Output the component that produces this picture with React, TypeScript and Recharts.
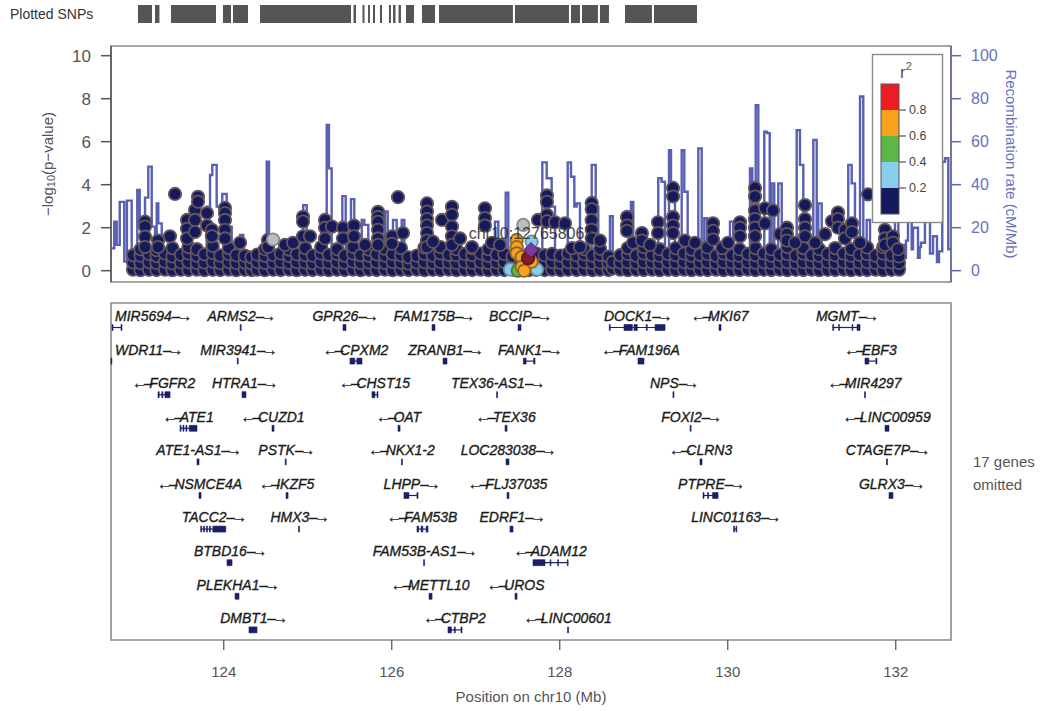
import React from 'react';
import {
  ComposedChart,
  Scatter,
  Line,
  XAxis,
  YAxis,
  ReferenceArea,
  ReferenceLine,
  ReferenceDot,
  Label,
} from 'recharts';

const FONT = '"Liberation Sans", Arial, Helvetica, sans-serif';

// 10 Mb window centred on the index SNP
const WINDOW: [number, number] = [122.658067, 132.658067];
const LOGP_DOMAIN: [number, number] = [-0.526, 10.451];
const RECOMB_DOMAIN: [number, number] = [-5.26, 104.51];
const ROW_DOMAIN: [number, number] = [0.613, 10.643];

const positionTicks = [124, 126, 128, 130, 132];
const logpTicks = [0, 2, 4, 6, 8, 10];
const recombTicks = [0, 20, 40, 60, 80, 100];
const r2Labels = ['0.8', '0.6', '0.4', '0.2'];
const r2Colors = ['#ec1c24', '#f7a11d', '#5cb746', '#89cdee', '#141a5b'];

const NAVY = '#141a5b';
const RECOMB = '#5860b2';
const GENE = '#1a1f66';

// recombination rate (cM/Mb), each value holds until the next position
const recombSteps: [number, number][] = [
  [122.658, 10.4], [122.697, 22.8], [122.726, 12], [122.762, 32], [122.816, 4.2],
  [122.848, 32.6], [122.904, 1.5], [122.971, 37.5], [123.0, 20.5], [123.063, 34],
  [123.102, 48.4], [123.143, 20.5], [123.182, 4], [123.202, 31.3], [123.221, 22],
  [123.262, 6], [123.313, 2], [123.384, 8], [123.432, 2], [123.539, 10],
  [123.575, 3], [123.694, 12], [123.729, 2], [123.797, 29.8], [123.837, 44.5],
  [123.864, 49.2], [123.916, 29.8], [123.983, 35.7], [124.035, 20.5], [124.095, 3],
  [124.194, 16.6], [124.233, 2], [124.36, 6], [124.408, 1], [124.512, 50.7],
  [124.539, 1.5], [124.729, 5], [124.789, 1], [124.947, 30.5], [124.988, 3],
  [125.087, 8], [125.146, 2], [125.226, 67.8], [125.253, 47.6], [125.285, 3],
  [125.412, 34.7], [125.452, 4], [125.515, 33.3], [125.554, 5], [125.643, 23.6],
  [125.673, 21.3], [125.721, 3], [125.813, 12], [125.86, 2], [125.92, 27.5],
  [125.952, 4], [126.015, 23.6], [126.059, 3], [126.119, 23.6], [126.15, 2],
  [126.277, 5], [126.337, 1], [126.491, 9.6], [126.535, 1.5], [126.753, 6],
  [126.813, 1], [127.027, 7], [127.087, 1], [127.229, 22.8], [127.269, 2],
  [127.357, 36.3], [127.388, 3], [127.527, 8], [127.587, 1], [127.793, 50.4],
  [127.845, 43], [127.904, 29.8], [127.944, 4], [128.095, 50.4], [128.134, 43.7],
  [128.174, 29.8], [128.202, 31.3], [128.241, 3], [128.381, 49.2], [128.428, 29.8],
  [128.459, 3], [128.598, 25.4], [128.631, 1], [128.718, 6], [128.777, 2],
  [128.848, 32], [128.876, 3], [129.015, 10], [129.075, 2], [129.173, 43],
  [129.213, 41.4], [129.253, 5], [129.301, 56], [129.325, 40.6], [129.372, 3],
  [129.452, 56], [129.483, 36.7], [129.523, 4], [129.65, 56.9], [129.69, 5],
  [129.721, 24.4], [129.753, 2], [129.848, 8], [129.908, 2], [130.027, 22.8],
  [130.066, 2], [130.146, 8], [130.206, 2], [130.265, 47.6], [130.293, 5],
  [130.333, 77], [130.364, 6], [130.435, 64.7], [130.468, 64], [130.5, 5],
  [130.523, 40.6], [130.554, 4], [130.602, 40.6], [130.643, 3], [130.741, 10],
  [130.789, 2], [130.821, 65.4], [130.86, 49.2], [130.9, 3], [131.019, 60.8],
  [131.059, 5], [131.078, 31.3], [131.119, 3], [131.218, 12], [131.277, 2],
  [131.435, 49.2], [131.476, 40.6], [131.515, 4], [131.575, 81], [131.614, 5],
  [131.654, 23.6], [131.694, 3], [131.813, 10], [131.872, 2], [131.991, 25.1],
  [132.031, 4], [132.075, 12], [132.098, 6], [132.122, 14], [132.146, 25],
  [132.19, 10], [132.206, 20], [132.265, 6], [132.285, 11], [132.301, 13],
  [132.348, 22.8], [132.408, 8], [132.444, 16], [132.491, 4], [132.515, 9],
  [132.554, 50.7], [132.587, 52.3], [132.626, 10], [132.658, 10],
];

// SNPs with r2 < 0.2: dense band near zero (position Mb, -log10 p values)
const snpFloor: [number, number[]][] = [
  [122.92, [0.05, 0.38, 0.72]], [123.01, [0.02, 0.35, 0.7, 1.0]], [123.11, [0.04, 0.4, 0.78]],
  [123.2, [0.03, 0.36, 0.68, 0.95]], [123.3, [0.05, 0.42, 0.8]], [123.39, [0.02, 0.34, 0.66, 1.05]],
  [123.49, [0.04, 0.38, 0.74]], [123.58, [0.03, 0.4, 0.8, 1.1]], [123.68, [0.05, 0.36, 0.7, 1.0]],
  [123.77, [0.02, 0.38, 0.76]], [123.87, [0.04, 0.42, 0.82, 1.15]], [123.96, [0.03, 0.35, 0.7]],
  [124.06, [0.05, 0.4, 0.78, 1.05]], [124.15, [0.02, 0.36, 0.72]], [124.25, [0.04, 0.38, 0.7]],
  [124.33, [0.03, 0.33, 0.62]], [124.4, [0.05, 0.4, 0.75]], [124.49, [0.02, 0.36, 0.7, 1.0]],
  [124.59, [0.04, 0.38, 0.72]], [124.68, [0.03, 0.42, 0.8]], [124.78, [0.05, 0.36, 0.68, 0.98]],
  [124.87, [0.02, 0.4, 0.76]], [124.97, [0.04, 0.38, 0.72, 1.05]], [125.06, [0.03, 0.35, 0.7]],
  [125.16, [0.05, 0.4, 0.8, 1.1]], [125.25, [0.02, 0.37, 0.74]], [125.35, [0.04, 0.4, 0.78, 1.0]],
  [125.44, [0.03, 0.36, 0.7]], [125.54, [0.05, 0.42, 0.8, 1.1]], [125.63, [0.02, 0.36, 0.72]],
  [125.73, [0.04, 0.38, 0.7, 0.98]], [125.82, [0.03, 0.4, 0.76]], [125.92, [0.05, 0.36, 0.7, 1.02]],
  [126.01, [0.02, 0.4, 0.78]], [126.11, [0.04, 0.37, 0.72, 1.05]], [126.2, [0.03, 0.34, 0.62]],
  [126.3, [0.05, 0.38, 0.7]], [126.39, [0.02, 0.4, 0.78, 1.08]], [126.49, [0.04, 0.36, 0.7]],
  [126.58, [0.03, 0.4, 0.8, 1.1]], [126.68, [0.05, 0.38, 0.74]], [126.77, [0.02, 0.36, 0.72, 1.0]],
  [126.87, [0.04, 0.4, 0.78]], [126.96, [0.03, 0.37, 0.72, 1.05]], [127.06, [0.05, 0.4, 0.8]],
  [127.15, [0.02, 0.36, 0.7, 1.0]], [127.25, [0.04, 0.38, 0.74]], [127.34, [0.03, 0.4, 0.78]],
  [127.44, [0.05, 0.34, 0.66]], [127.53, [0.03, 0.32]], [127.63, [0.02, 0.3]],
  [127.72, [0.04, 0.4, 0.8]], [127.82, [0.03, 0.38, 0.72]], [127.91, [0.05, 0.4, 0.78]],
  [128.01, [0.02, 0.36, 0.7]], [128.1, [0.04, 0.4, 0.8]], [128.2, [0.03, 0.37, 0.72]],
  [128.29, [0.05, 0.4, 0.76, 1.0]], [128.39, [0.02, 0.36, 0.7]], [128.48, [0.04, 0.38, 0.74, 1.02]],
  [128.58, [0.03, 0.35, 0.66]], [128.63, [0.1, 0.4]], [128.72, [0.05, 0.38, 0.72]],
  [128.81, [0.02, 0.4, 0.78, 1.05]], [128.91, [0.04, 0.36, 0.7]], [129.0, [0.03, 0.4, 0.8, 1.1]],
  [129.1, [0.05, 0.38, 0.72]], [129.19, [0.02, 0.36, 0.7, 1.0]], [129.29, [0.04, 0.4, 0.78]],
  [129.38, [0.03, 0.37, 0.72, 1.05]], [129.48, [0.05, 0.4, 0.8]], [129.57, [0.02, 0.36, 0.7, 0.98]],
  [129.67, [0.04, 0.38, 0.74]], [129.76, [0.03, 0.4, 0.78, 1.08]], [129.86, [0.05, 0.36, 0.7]],
  [129.95, [0.02, 0.4, 0.8, 1.1]], [130.05, [0.04, 0.38, 0.72]], [130.14, [0.03, 0.36, 0.7, 1.0]],
  [130.24, [0.05, 0.4, 0.78]], [130.33, [0.02, 0.37, 0.72, 1.05]], [130.43, [0.04, 0.4, 0.8]],
  [130.52, [0.03, 0.36, 0.7, 1.0]], [130.62, [0.05, 0.38, 0.74]], [130.71, [0.02, 0.4, 0.78, 1.1]],
  [130.81, [0.04, 0.36, 0.7]], [130.9, [0.03, 0.4, 0.8, 1.05]], [131.0, [0.05, 0.38, 0.72]],
  [131.09, [0.02, 0.36, 0.7, 1.0]], [131.19, [0.04, 0.4, 0.78]], [131.28, [0.03, 0.37, 0.72, 1.05]],
  [131.38, [0.05, 0.4, 0.8]], [131.47, [0.02, 0.36, 0.7, 1.0]], [131.57, [0.04, 0.38, 0.74]],
  [131.66, [0.03, 0.4, 0.78, 1.08]], [131.76, [0.05, 0.36, 0.7]], [131.85, [0.02, 0.4, 0.8, 1.1]],
  [131.95, [0.04, 0.38, 0.72]], [132.04, [0.05, 0.36, 0.66]],
];

// SNPs with r2 < 0.2 rising above the band
const snpUpper: [number, number[]][] = [
  [123.063, [2.28, 2.05, 1.58, 1.1]], [123.218, [1.4, 1.1]], [123.36, [1.6]], [123.42, [3.57]],
  [123.563, [2.36, 1.95, 1.5]], [123.658, [2.82, 2.36, 1.8]], [123.694, [3.44, 3.21]],
  [123.801, [2.68, 2.1]], [123.86, [1.9, 1.6]], [124.015, [2.92, 2.68, 2.36, 1.9, 1.5]],
  [124.194, [1.3]], [124.527, [1.43, 1.1]], [124.729, [1.2]], [124.825, [1.3]],
  [124.944, [2.51, 2.28, 1.6]], [125.027, [1.6]], [125.206, [2.36, 2.0, 1.5]], [125.289, [2.05]],
  [125.42, [2.0, 1.5]], [125.551, [2.1, 1.6]], [125.682, [1.2]],
  [125.837, [2.74, 2.5, 2.27, 1.9, 1.5, 1.2]], [126.003, [1.6, 1.25]], [126.075, [3.42]],
  [126.134, [1.75]], [126.42, [3.13, 2.75, 2.4, 2.1, 1.75, 1.4, 1.1]], [126.491, [1.35]],
  [126.598, [2.36]], [126.717, [2.97, 2.6, 2.05, 1.6, 1.2]], [126.813, [1.5]], [126.956, [1.1]],
  [127.11, [2.9, 2.45, 2.1]], [127.194, [1.3]], [127.289, [1.2]], [127.741, [2.36]],
  [127.848, [3.5, 3.2, 2.6, 2.3]], [127.944, [2.25]], [128.063, [2.2]], [128.146, [1.05]],
  [128.241, [1.1]], [128.381, [3.15, 2.85, 2.35, 1.9, 1.5]], [128.479, [1.4]],
  [128.801, [2.5, 2.1, 1.85]], [128.872, [1.3]], [128.979, [1.75, 1.4]], [129.075, [1.2]],
  [129.17, [2.25, 1.75]], [129.349, [3.85, 3.45, 2.5, 2.1, 1.75]], [129.491, [1.4]],
  [129.61, [1.3]], [129.825, [2.2, 1.85, 1.45]], [129.933, [1.05]], [130.004, [1.3]],
  [130.146, [2.25, 2.0, 1.6]], [130.325, [3.85, 3.45, 2.8, 2.4, 2.0, 1.6]], [130.444, [2.9, 2.2]],
  [130.539, [2.8]], [130.622, [1.7]], [130.705, [2.0, 1.7, 1.4]], [130.801, [1.3]],
  [130.92, [3.05, 2.4, 2.0, 1.6]], [131.039, [1.3]], [131.158, [1.7]], [131.241, [2.3]],
  [131.313, [2.7, 2.4, 2.0]], [131.396, [1.9, 1.5]], [131.479, [2.2, 1.8]], [131.574, [1.3]],
  [131.67, [3.55]], [131.872, [1.9, 1.5, 1.2]], [131.967, [1.6, 1.3]], [132.027, [1.0]],
];

// SNPs by LD class (position Mb, -log10 p)
const snpNoLd: [number, number][] = [[124.587, 1.45], [127.566, 2.13]];
const snpR2Low: [number, number][] = [[127.408, 0.06], [127.729, 0.06], [127.666, 1.35]];
const snpR2Mid: [number, number][] = [[127.5, 0.0]];
const snpR2High: [number, number][] = [
  [127.488, 1.43], [127.488, 1.1], [127.488, 0.81], [127.547, 0.63],
  [127.547, 0.18], [127.666, 0.42], [127.578, 0.0],
];
const snpR2Top: [number, number][] = [[127.623, 0.58]];
const leadSnp = { pos: 127.658067, logp: 0.96, label: 'chr10:127658067' };

// genotyped coverage shown in the top strip (start, end in Mb)
const rugBlocks: [number, number][] = [
  [122.979, 123.146], [123.182, 123.235], [123.372, 123.908], [123.991, 124.087],
  [124.11, 124.289], [124.432, 125.515], [125.545, 125.575], [125.652, 125.676],
  [125.718, 125.741], [125.777, 125.801], [125.86, 125.884], [125.967, 125.991],
  [126.015, 126.045], [126.081, 126.11], [126.17, 126.265], [126.36, 126.515],
  [126.563, 127.443], [127.467, 128.11], [128.134, 128.241], [128.265, 128.455],
  [128.479, 128.586], [128.777, 129.098], [129.122, 129.634],
];

type Gene = { name: string; strand: '+' | '-'; row: number; exons: [number, number][] };

const genes: Gene[] = [
  { name: 'MIR5694', strand: '+', row: 1, exons: [[122.67, 122.682], [122.777, 122.789]] },
  { name: 'ARMS2', strand: '+', row: 1, exons: [[124.196, 124.208]] },
  { name: 'GPR26', strand: '+', row: 1, exons: [[125.42, 125.456]] },
  { name: 'FAM175B', strand: '+', row: 1, exons: [[126.48, 126.515]] },
  { name: 'BCCIP', strand: '+', row: 1, exons: [[127.504, 127.539]] },
  { name: 'DOCK1', strand: '+', row: 1, exons: [[128.59, 128.602], [128.765, 128.865], [128.884, 128.923], [129.03, 129.042], [129.135, 129.254]] },
  { name: 'MKI67', strand: '-', row: 1, exons: [[129.896, 129.92]] },
  { name: 'MGMT', strand: '+', row: 1, exons: [[131.25, 131.262], [131.32, 131.33], [131.48, 131.49], [131.54, 131.575]] },

  { name: 'WDR11', strand: '+', row: 2, exons: [[122.658, 122.668]] },
  { name: 'MIR3941', strand: '+', row: 2, exons: [[124.161, 124.173]] },
  { name: 'CPXM2', strand: '-', row: 2, exons: [[125.503, 125.56], [125.585, 125.646]] },
  { name: 'ZRANB1', strand: '+', row: 2, exons: [[126.611, 126.658]] },
  { name: 'FANK1', strand: '+', row: 2, exons: [[127.567, 127.6], [127.69, 127.706]] },
  { name: 'FAM196A', strand: '-', row: 2, exons: [[128.932, 129.003]] },
  { name: 'EBF3', strand: '-', row: 2, exons: [[131.634, 131.68], [131.764, 131.776]] },

  { name: 'FGFR2', strand: '-', row: 3, exons: [[123.218, 123.232], [123.262, 123.276], [123.3, 123.361]] },
  { name: 'HTRA1', strand: '+', row: 3, exons: [[124.218, 124.265]] },
  { name: 'CHST15', strand: '-', row: 3, exons: [[125.765, 125.8], [125.825, 125.837]] },
  { name: 'TEX36-AS1', strand: '+', row: 3, exons: [[127.248, 127.26]] },
  { name: 'NPS', strand: '+', row: 3, exons: [[129.348, 129.36]] },
  { name: 'MIR4297', strand: '-', row: 3, exons: [[131.628, 131.64]] },

  { name: 'ATE1', strand: '-', row: 4, exons: [[123.48, 123.492], [123.515, 123.527], [123.55, 123.562], [123.59, 123.682]] },
  { name: 'CUZD1', strand: '-', row: 4, exons: [[124.575, 124.599]] },
  { name: 'OAT', strand: '-', row: 4, exons: [[126.075, 126.099]] },
  { name: 'TEX36', strand: '-', row: 4, exons: [[127.349, 127.373]] },
  { name: 'FOXI2', strand: '+', row: 4, exons: [[129.552, 129.564]] },
  { name: 'LINC00959', strand: '-', row: 4, exons: [[131.873, 131.92]] },

  { name: 'ATE1-AS1', strand: '+', row: 5, exons: [[123.682, 123.706]] },
  { name: 'PSTK', strand: '+', row: 5, exons: [[124.732, 124.744]] },
  { name: 'NKX1-2', strand: '-', row: 5, exons: [[126.116, 126.128]] },
  { name: 'LOC283038', strand: '+', row: 5, exons: [[127.361, 127.396]] },
  { name: 'CLRN3', strand: '-', row: 5, exons: [[129.67, 129.694]] },
  { name: 'CTAGE7P', strand: '+', row: 5, exons: [[131.89, 131.902]] },

  { name: 'NSMCE4A', strand: '-', row: 6, exons: [[123.706, 123.73]] },
  { name: 'IKZF5', strand: '-', row: 6, exons: [[124.742, 124.766]] },
  { name: 'LHPP', strand: '+', row: 6, exons: [[126.146, 126.205], [126.3, 126.313]] },
  { name: 'FLJ37035', strand: '-', row: 6, exons: [[127.373, 127.396]] },
  { name: 'PTPRE', strand: '+', row: 6, exons: [[129.706, 129.718], [129.76, 129.772], [129.82, 129.885]] },
  { name: 'GLRX3', strand: '+', row: 6, exons: [[131.92, 131.967]] },

  { name: 'TACC2', strand: '+', row: 7, exons: [[123.726, 123.738], [123.76, 123.772], [123.795, 123.807], [123.83, 123.842], [123.87, 124.024]] },
  { name: 'HMX3', strand: '+', row: 7, exons: [[124.89, 124.902]] },
  { name: 'FAM53B', strand: '-', row: 7, exons: [[126.301, 126.32], [126.35, 126.37], [126.41, 126.432]] },
  { name: 'EDRF1', strand: '+', row: 7, exons: [[127.408, 127.444]] },
  { name: 'LINC01163', strand: '+', row: 7, exons: [[130.07, 130.08], [130.098, 130.108]] },

  { name: 'BTBD16', strand: '+', row: 8, exons: [[124.039, 124.099]] },
  { name: 'FAM53B-AS1', strand: '+', row: 8, exons: [[126.379, 126.391]] },
  { name: 'ADAM12', strand: '-', row: 8, exons: [[127.682, 127.825], [127.885, 127.895], [127.975, 127.985], [128.09, 128.1]] },

  { name: 'PLEKHA1', strand: '+', row: 9, exons: [[124.135, 124.182]] },
  { name: 'METTL10', strand: '-', row: 9, exons: [[126.444, 126.48]] },
  { name: 'UROS', strand: '-', row: 9, exons: [[127.468, 127.492]] },

  { name: 'DMBT1', strand: '+', row: 10, exons: [[124.301, 124.396]] },
  { name: 'CTBP2', strand: '-', row: 10, exons: [[126.67, 126.71], [126.745, 126.757], [126.825, 126.837]] },
  { name: 'LINC00601', strand: '-', row: 10, exons: [[128.093, 128.105]] },
];

const omittedNote = ['17 genes', 'omitted'];

const toPoints = (cols: [number, number[]][]) =>
  cols.flatMap(([pos, vals]) => vals.map((logp) => ({ pos, logp })));
const pairsToPoints = (pairs: [number, number][]) => pairs.map(([pos, logp]) => ({ pos, logp }));

const recombData = recombSteps.map(([pos, rate]) => ({ pos, rate }));
const navyPoints = [...toPoints(snpFloor), ...toPoints(snpUpper)];

const geneSpan = (g: Gene) => [
  Math.min(...g.exons.map((e) => e[0])),
  Math.max(...g.exons.map((e) => e[1])),
];
const geneLabels = genes.map((g) => {
  const [s, e] = geneSpan(g);
  return { pos: (s + e) / 2, row: g.row, name: g.name, strand: g.strand };
});

// glyph sits just under its label, in row units
const GLYPH_OFFSET = 0.342;
const GLYPH_HALF = 0.089;
const PANEL_LEFT = 111;
const GENE_FONT = 14;
const ARROW_FONT = 15;
const ARROW_RIGHT = '\u2013\u2192';
const ARROW_LEFT = '\u2190\u2013';

let measureCtx: CanvasRenderingContext2D | null = null;
function textWidth(s: string, font: string) {
  if (!measureCtx) measureCtx = document.createElement('canvas').getContext('2d');
  if (!measureCtx) return s.length * 8.5;
  measureCtx.font = font;
  return measureCtx.measureText(s).width;
}

const GeneLabel = (p: any) => {
  const { name, strand } = p.payload;
  const arrow = strand === '+' ? ARROW_RIGHT : ARROW_LEFT;
  const w =
    textWidth(name, `italic ${GENE_FONT}px ${FONT}`) +
    textWidth(arrow, `${ARROW_FONT}px ${FONT}`) * 0.78;
  const left = Math.max(PANEL_LEFT + 4, p.cx - w / 2);
  const common = { fill: '#1b1b1b', stroke: '#1b1b1b', strokeWidth: 0.35 };
  const arrowSpan = (
    <tspan fontSize={ARROW_FONT} fontStyle="normal" letterSpacing={-3}>
      {arrow}
    </tspan>
  );
  return (
    <text x={left} y={p.cy} dy="0.35em" fontSize={GENE_FONT} fontStyle="italic" fontFamily={FONT} {...common}>
      {strand === '-' && arrowSpan}
      <tspan>{name}</tspan>
      {strand === '+' && arrowSpan}
    </text>
  );
};

const makeDot = (fill: string, stroke: string) => (p: any) => (
  <circle cx={p.cx} cy={p.cy} r={6.2} fill={fill} stroke={stroke} strokeWidth={1.8} />
);

const LeadMarker = (p: any) => {
  const s = 7.5;
  return (
    <polygon
      points={`${p.cx},${p.cy - s} ${p.cx + s},${p.cy} ${p.cx},${p.cy + s} ${p.cx - s},${p.cy}`}
      fill="#7b3a98"
      stroke="#4a2160"
      strokeWidth={1}
    />
  );
};

const LogPTitle = (props: any) => {
  const vb = props.viewBox || { x: 35, y: 46, height: 236 };
  const x = vb.x + 11.5;
  const y = vb.y + vb.height / 2;
  return (
    <text
      transform={`translate(${x},${y}) rotate(-90)`}
      textAnchor="middle"
      dominantBaseline="central"
      fontSize={15}
      fontFamily={FONT}
      fill="#555"
    >
      <tspan>{'\u2212log'}</tspan>
      <tspan fontSize={11} dy={4}>10</tspan>
      <tspan dy={-4}>{'(p\u2212value)'}</tspan>
    </text>
  );
};

const RecombTitle = (props: any) => {
  const vb = props.viewBox || { x: 951, y: 46, height: 236 };
  const x = vb.x + 60.5;
  const y = vb.y + vb.height / 2;
  return (
    <text
      transform={`translate(${x},${y}) rotate(90)`}
      textAnchor="middle"
      dominantBaseline="central"
      fontSize={15}
      fontFamily={FONT}
      fill="#6a6fc0"
    >
      Recombination rate (cM/Mb)
    </text>
  );
};

function R2Legend() {
  const top = 84;
  const band = 26;
  return (
    <g>
      <rect x={872.5} y={54.5} width={70} height={168} fill="#fff" stroke="#8a8a8a" strokeWidth={1.4} />
      <text x={900} y={78} fontSize={17} fontFamily={FONT} fill="#555">
        r<tspan fontSize={11} dy={-8}>2</tspan>
      </text>
      {r2Colors.map((c, i) => (
        <rect key={c} x={881} y={top + i * band} width={18} height={band} fill={c} />
      ))}
      <rect x={881} y={top} width={18} height={band * 5} fill="none" stroke="#555" strokeWidth={1} />
      {r2Labels.map((t, i) => (
        <g key={t}>
          <line x1={899} x2={906} y1={top + (i + 1) * band} y2={top + (i + 1) * band} stroke="#555" strokeWidth={1.2} />
          <text x={909} y={top + (i + 1) * band} dy="0.35em" fontSize={12.5} fontFamily={FONT} fill="#444">
            {t}
          </text>
        </g>
      ))}
    </g>
  );
}

export default function App() {
  return (
    <div style={{ position: 'absolute', left: 0, top: 0, width: 1048, height: 711, background: '#fff', fontFamily: FONT }}>
      {/* association panel */}
      <div style={{ position: 'absolute', left: 0, top: 0 }}>
        <ComposedChart width={1048} height={290} margin={{ top: 46, right: 21, bottom: 8, left: 35 }}>
          <XAxis type="number" dataKey="pos" domain={WINDOW} allowDataOverflow hide />
          <YAxis
            yAxisId="left"
            type="number"
            dataKey="logp"
            domain={LOGP_DOMAIN}
            ticks={logpTicks}
            interval={0}
            allowDataOverflow
            width={76}
            tickSize={10}
            tickMargin={10}
            stroke="#555"
            strokeWidth={1.5}
            tick={{ fill: '#555', fontSize: 17, fontFamily: FONT }}
          >
            <Label content={LogPTitle} />
          </YAxis>
          <YAxis
            yAxisId="right"
            orientation="right"
            type="number"
            dataKey="rate"
            domain={RECOMB_DOMAIN}
            ticks={recombTicks}
            interval={0}
            allowDataOverflow
            width={76}
            tickSize={10}
            tickMargin={10}
            stroke="#6166b3"
            strokeWidth={1.5}
            tick={{ fill: '#6a6fc0', fontSize: 16, fontFamily: FONT }}
          >
            <Label content={RecombTitle} />
          </YAxis>
          <Line
            yAxisId="right"
            data={recombData}
            dataKey="rate"
            type="stepAfter"
            stroke={RECOMB}
            strokeWidth={2.4}
            dot={false}
            isAnimationActive={false}
          />
          <Scatter yAxisId="left" data={navyPoints} dataKey="logp" shape={makeDot(NAVY, '#65565a')} isAnimationActive={false} />
          <Scatter yAxisId="left" data={pairsToPoints(snpNoLd)} dataKey="logp" shape={makeDot('#bdbdbd', '#8a8a8a')} isAnimationActive={false} />
          <Scatter yAxisId="left" data={pairsToPoints(snpR2Low)} dataKey="logp" shape={makeDot(r2Colors[3], '#6a8fa0')} isAnimationActive={false} />
          <Scatter yAxisId="left" data={pairsToPoints(snpR2Mid)} dataKey="logp" shape={makeDot(r2Colors[2], '#4a7a3a')} isAnimationActive={false} />
          <Scatter yAxisId="left" data={pairsToPoints(snpR2High)} dataKey="logp" shape={makeDot(r2Colors[1], '#8a6a2a')} isAnimationActive={false} />
          <Scatter yAxisId="left" data={pairsToPoints(snpR2Top)} dataKey="logp" shape={makeDot('#8b1a2a', '#5a1a1a')} isAnimationActive={false} />
          <Scatter yAxisId="left" data={[leadSnp]} dataKey="logp" shape={LeadMarker} isAnimationActive={false} />
          <ReferenceDot
            yAxisId="left"
            x={leadSnp.pos}
            y={leadSnp.logp}
            r={0.1}
            fill="none"
            stroke="none"
            ifOverflow="visible"
            label={{
              value: leadSnp.label,
              position: 'top',
              offset: 11,
              fill: '#2a2a2a',
              fontSize: 16,
              fontFamily: FONT,
              opacity: 0.85,
            }}
          />
          <ReferenceArea
            yAxisId="left"
            x1={WINDOW[0]}
            x2={WINDOW[1]}
            y1={LOGP_DOMAIN[0]}
            y2={LOGP_DOMAIN[1]}
            fill="none"
            stroke="#8a8a8a"
            strokeWidth={1.6}
            ifOverflow="visible"
          />
        </ComposedChart>
      </div>

      {/* plotted SNPs strip */}
      <div style={{ position: 'absolute', left: 0, top: 0 }}>
        <ComposedChart
          width={1048}
          height={30}
          margin={{ top: 5, right: 97, bottom: 7, left: 111 }}
          data={rugBlocks.map(([s, e]) => ({ pos: s, end: e, y: 0.5 }))}
        >
          <XAxis type="number" dataKey="pos" domain={WINDOW} allowDataOverflow hide />
          <YAxis type="number" dataKey="y" domain={[0, 1]} hide />
          {rugBlocks.map(([s, e], i) => (
            <ReferenceArea key={i} x1={s} x2={e} y1={0} y2={1} fill="#555" fillOpacity={1} stroke="none" ifOverflow="visible" />
          ))}
        </ComposedChart>
      </div>

      {/* gene panel */}
      <div style={{ position: 'absolute', left: 0, top: 290 }}>
        <ComposedChart
          width={1048}
          height={421}
          margin={{ top: 13, right: 97, bottom: 0, left: 111 }}
          data={geneLabels}
        >
          <XAxis
            type="number"
            dataKey="pos"
            domain={WINDOW}
            allowDataOverflow
            ticks={positionTicks}
            interval={0}
            height={71}
            tickSize={10}
            tickMargin={16}
            axisLine={false}
            tickLine={{ stroke: '#666', strokeWidth: 1.4 }}
            tick={{ fill: '#555', fontSize: 15, fontFamily: FONT }}
          >
            <Label value="Position on chr10 (Mb)" position="insideBottom" offset={9} fill="#555" fontSize={15} fontFamily={FONT} />
          </XAxis>
          <YAxis type="number" dataKey="row" domain={ROW_DOMAIN} reversed allowDataOverflow hide />
          <ReferenceArea
            x1={WINDOW[0]}
            x2={WINDOW[1]}
            y1={ROW_DOMAIN[0]}
            y2={ROW_DOMAIN[1]}
            fill="none"
            stroke="#8a8a8a"
            strokeWidth={1.6}
            ifOverflow="visible"
          />
          {genes
            .filter((g) => g.exons.length > 1)
            .map((g) => {
              const [s, e] = geneSpan(g);
              return (
                <ReferenceLine
                  key={`intron-${g.name}`}
                  segment={[{ x: s, y: g.row + GLYPH_OFFSET }, { x: e, y: g.row + GLYPH_OFFSET }]}
                  stroke={GENE}
                  strokeWidth={1.2}
                  ifOverflow="visible"
                />
              );
            })}
          {genes.flatMap((g) =>
            g.exons.map(([s, e], i) => (
              <ReferenceArea
                key={`${g.name}-${i}`}
                x1={s}
                x2={e}
                y1={g.row + GLYPH_OFFSET - GLYPH_HALF}
                y2={g.row + GLYPH_OFFSET + GLYPH_HALF}
                fill={GENE}
                fillOpacity={1}
                stroke={GENE}
                strokeWidth={0.6}
                ifOverflow="visible"
              />
            )),
          )}
          <Scatter data={geneLabels} dataKey="row" shape={GeneLabel} isAnimationActive={false} />
        </ComposedChart>
      </div>

      {/* legend and side notes */}
      <svg width={1048} height={711} style={{ position: 'absolute', left: 0, top: 0, pointerEvents: 'none' }}>
        <text x={10} y={19} fontSize={14} fontFamily={FONT} fill="#333">
          Plotted SNPs
        </text>
        <R2Legend />
        {omittedNote.map((t, i) => (
          <text key={t} x={973} y={467 + i * 23} fontSize={15} fontFamily={FONT} fill="#555">
            {t}
          </text>
        ))}
      </svg>
    </div>
  );
}
